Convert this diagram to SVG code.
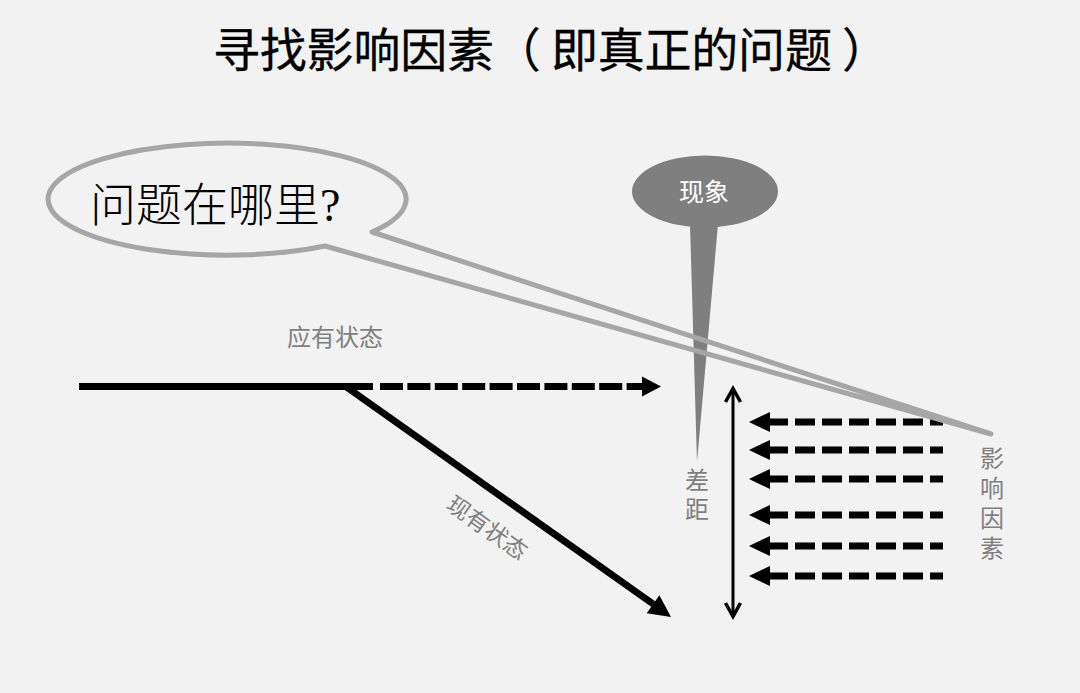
<svg xmlns="http://www.w3.org/2000/svg" width="1080" height="693" viewBox="0 0 1080 693">
<defs>
<style>
.cjk{font-family:"Noto Sans CJK SC","Noto Sans",sans-serif}
.gray{fill:#7f7f7f}
.blk{stroke:#000;fill:none}
.dash{stroke:#000;stroke-width:7;stroke-dasharray:20 7}
.vert{writing-mode:vertical-rl;text-orientation:upright}
</style>
<polygon id="lh" points="0,0 21,-10 21,10" fill="#000"/>
</defs>
<rect width="1080" height="693" fill="#f2f2f2"/>
<text class="cjk" x="213" y="67" font-size="47" textLength="676" lengthAdjust="spacing" fill="#000" stroke="#000" stroke-width="0.3">寻找影响因素（ 即真正的问题 ）</text>

<g id="phenomenon">
<polygon points="690,224 718,224 697,462" fill="#7f7f7f"/>
<ellipse cx="705" cy="191.5" rx="73" ry="36" fill="#7f7f7f"/>
<text class="cjk" x="704" y="201" font-size="25" text-anchor="middle" fill="#fff">现象</text>
</g>

<g id="connectors">
<line x1="79" y1="386.5" x2="373" y2="386.5" class="blk" stroke-width="7"/>
<line x1="380" y1="386.5" x2="643" y2="386.5" class="blk" stroke-width="7" stroke-dasharray="23 4.4"/>
<polygon points="661,386.5 642,376.5 642,396.5" fill="#000"/>
<line x1="345" y1="386" x2="656" y2="606" class="blk" stroke-width="7"/>
<polygon points="671,617 646.7,613.3 659.4,595.3" fill="#000"/>
<line x1="733" y1="390" x2="733" y2="615" class="blk" stroke-width="3"/>
<polyline points="725.5,402 733,388.5 740.5,402" class="blk" stroke-width="3.5" stroke-linejoin="miter"/>
<polyline points="725.5,603 733,616.5 740.5,603" class="blk" stroke-width="3.5" stroke-linejoin="miter"/>
<line x1="768" y1="422" x2="943" y2="422" class="dash"/>
<use href="#lh" x="749" y="422"/>
<line x1="768" y1="450" x2="943" y2="450" class="dash"/>
<use href="#lh" x="749" y="450"/>
<line x1="768" y1="479" x2="943" y2="479" class="dash"/>
<use href="#lh" x="749" y="479"/>
<line x1="768" y1="515" x2="943" y2="515" class="dash"/>
<use href="#lh" x="749" y="515"/>
<line x1="768" y1="546" x2="943" y2="546" class="dash"/>
<use href="#lh" x="749" y="546"/>
<line x1="768" y1="576" x2="943" y2="576" class="dash"/>
<use href="#lh" x="749" y="576"/>
</g>

<g id="labels">
<text class="cjk gray" x="335" y="346" font-size="24" text-anchor="middle">应有状态</text>
<text class="cjk gray" font-size="23" text-anchor="middle" transform="translate(487,528) rotate(35.3)" y="8">现有状态</text>
<text class="cjk gray vert" x="697" y="468" font-size="24" letter-spacing="5">差距</text>
<text class="cjk gray vert" x="992" y="446" font-size="24" letter-spacing="6">影响因素</text>
</g>

<g id="bubble">
<path d="M372,232 L991,434 L325,246 A179,56 0 1 1 372,232 Z" fill="none" stroke="#a6a6a6" stroke-width="5" stroke-linejoin="round"/>
<text x="90" y="221" font-size="46" fill="#000" font-family="'Liberation Serif','Noto Sans CJK SC',serif" font-weight="300">问题在哪里?</text>
</g>
</svg>
